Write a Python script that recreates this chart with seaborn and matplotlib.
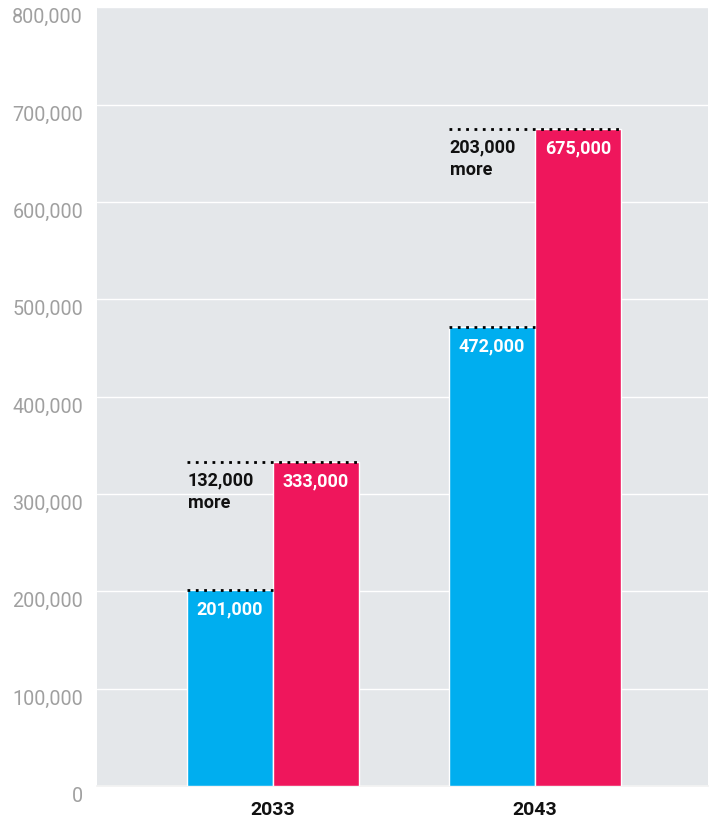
import pandas as pd
import seaborn as sns
import matplotlib.pyplot as plt
from matplotlib.ticker import FuncFormatter

# === DATA ===
years = ["2033", "2043"]
series = ["low", "high"]
low_values = [201000, 472000]
high_values = [333000, 675000]
y_ticks = [0, 100000, 200000, 300000, 400000, 500000, 600000, 700000, 800000]

BLUE = "#00aeef"
RED = "#ef165c"
BG = "#e4e7ea"

df = pd.DataFrame({
    "year": years * 2,
    "series": [series[0]] * len(years) + [series[1]] * len(years),
    "value": low_values + high_values,
})

sns.set_theme(style="white")
plt.rcParams["font.family"] = ["Roboto", "DejaVu Sans"]

fig = plt.figure(figsize=(7.11, 8.2), dpi=100)
ax = fig.add_axes([0.1364, 0.0402, 0.8594, 0.9498])
ax.set_facecolor(BG)

sns.barplot(data=df, x="year", y="value", hue="series", order=years,
            hue_order=series, palette=[BLUE, RED], width=0.656, saturation=1,
            edgecolor="white", linewidth=1, legend=False, ax=ax, zorder=3)

ax.set_ylim(0, 800000)
ax.set_xlim(-0.672, 1.66)
ax.set_yticks(y_ticks)
ax.yaxis.set_major_formatter(FuncFormatter(lambda v, p: f"{int(v):,}"))
ax.grid(axis="y", color="white", linewidth=1, zorder=0)
ax.set_axisbelow(True)
for s in ax.spines.values():
    s.set_visible(False)
ax.spines["bottom"].set_visible(True)
ax.spines["bottom"].set_color("#f2f2f2")
ax.set_xlabel("")
ax.set_ylabel("")
ax.tick_params(axis="y", length=0, pad=10, labelsize=14.2, labelcolor="#a0a0a0")
for lab in ax.get_yticklabels():
    lab.set_verticalalignment("top")
ax.tick_params(axis="x", length=0, pad=10, labelsize=14)
for lab in ax.get_xticklabels():
    lab.set_fontweight("bold")
    lab.set_color("#111111")

# bars in order: series low (year0, year1), series high (year0, year1)
bars = ax.patches
n = len(years)
for i in range(n):
    lo = bars[i]
    hi = bars[n + i]
    x0 = lo.get_x()
    x1 = hi.get_x() + hi.get_width()
    # dotted markers at bar tops
    ax.hlines(low_values[i], x0, lo.get_x() + lo.get_width(), colors="black",
              linestyles=(0, (1, 2)), linewidth=2, zorder=5)
    ax.hlines(high_values[i], x0, x1, colors="black",
              linestyles=(0, (1, 2)), linewidth=2, zorder=5)
    off = 19000
    ax.text(lo.get_x() + lo.get_width() / 2, low_values[i] - off,
            f"{low_values[i]:,}", ha="center", va="center", color="white",
            fontsize=13, fontweight="bold", zorder=6)
    ax.text(hi.get_x() + hi.get_width() / 2, high_values[i] - off,
            f"{high_values[i]:,}", ha="center", va="center", color="white",
            fontsize=13, fontweight="bold", zorder=6)
    diff = high_values[i] - low_values[i]
    ax.text(x0 + 0.002, high_values[i] - 9000, f"{diff:,}\nmore", ha="left",
            va="top", color="#111111", fontsize=13, fontweight="bold",
            linespacing=1.3, zorder=6)

fig.savefig("out.png", dpi=100)
